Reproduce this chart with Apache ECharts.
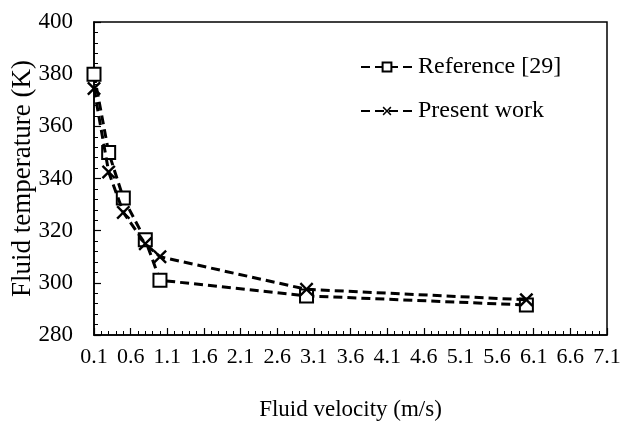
<!DOCTYPE html>
<html>
<head>
<meta charset="utf-8">
<script src="https://cdn.jsdelivr.net/npm/echarts@6/dist/echarts.min.js"></script>
<style>html,body{margin:0;padding:0;background:#fff;}#c{width:622px;height:434px;}</style>
</head>
<body>
<div id="c"></div>
<script>
const velocity = [0.1, 0.3, 0.5, 0.8, 1.0, 3.0, 6.0];
const referenceTemp = [380, 350, 332.5, 316.5, 301, 295, 291.5];
const presentTemp = [374.5, 342.5, 327, 315, 310, 297.5, 293.5];
const seriesNames = ['Reference [29]', 'Present work'];

const FONT = 'Liberation Serif';
const xPath = 'path://M0,1.2L1.2,0L5,3.8L8.8,0L10,1.2L6.2,5L10,8.8L8.8,10L5,6.2L1.2,10L0,8.8L3.8,5Z';

const chart = echarts.init(document.getElementById('c'));
chart.setOption({
  backgroundColor: '#fff',
  animation: false,
  grid: { left: 94, right: 15, top: 22, bottom: 99, outerBoundsMode: 'none', containLabel: false, show: true, borderColor: '#000', borderWidth: 1.5, backgroundColor: 'transparent' },
  legend: {
    orient: 'vertical', left: 355, top: 50,
    itemWidth: 52, itemHeight: 11, itemGap: 20,
    textStyle: { fontFamily: FONT, fontSize: 24, color: '#000', lineHeight: 24 },
    data: seriesNames
  },
  xAxis: {
    type: 'value', min: 0.1, max: 7.1, interval: 0.5,
    name: 'Fluid velocity (m/s)', nameLocation: 'middle', nameGap: 63,
    nameTextStyle: { fontFamily: FONT, fontSize: 23, color: '#000' },
    axisLine: { show: true, lineStyle: { color: '#000', width: 1.5 } },
    axisTick: { show: true, inside: true, length: 7, lineStyle: { color: '#000', width: 1.2 } },
    minorTick: { show: true, splitNumber: 5, length: 4, lineStyle: { color: '#000', width: 1 } },
    splitLine: { show: false },
    axisLabel: { fontFamily: FONT, fontSize: 22, color: '#000', margin: 11, formatter: v => v.toFixed(1) }
  },
  yAxis: {
    type: 'value', min: 280, max: 400, interval: 20,
    name: 'Fluid temperature (K)', nameLocation: 'middle', nameGap: 58, nameRotate: 90, nameMoveOverlap: false,
    nameTextStyle: { fontFamily: FONT, fontSize: 27, color: '#000' },
    axisLine: { show: true, lineStyle: { color: '#000', width: 1.5 } },
    axisTick: { show: true, inside: true, length: 7, lineStyle: { color: '#000', width: 1.2 } },
    minorTick: { show: true, splitNumber: 5, length: 4, lineStyle: { color: '#000', width: 1 } },
    splitLine: { show: false },
    axisLabel: { fontFamily: FONT, fontSize: 23, color: '#000', margin: 21 }
  },
  series: [
    {
      name: seriesNames[0], type: 'line',
      data: velocity.map((v, i) => [v, referenceTemp[i]]),
      symbol: 'rect', symbolSize: 13,
      itemStyle: { color: '#fff', borderColor: '#000', borderWidth: 2 },
      lineStyle: { color: '#000', width: 3, type: [9, 5] },
      z: 2
    },
    {
      name: seriesNames[1], type: 'line',
      data: velocity.map((v, i) => [v, presentTemp[i]]),
      symbol: xPath, symbolSize: 14,
      itemStyle: { color: '#000', borderWidth: 0 },
      lineStyle: { color: '#000', width: 3, type: [9, 5] },
      z: 3
    }
  ]
});
</script>
</body>
</html>
